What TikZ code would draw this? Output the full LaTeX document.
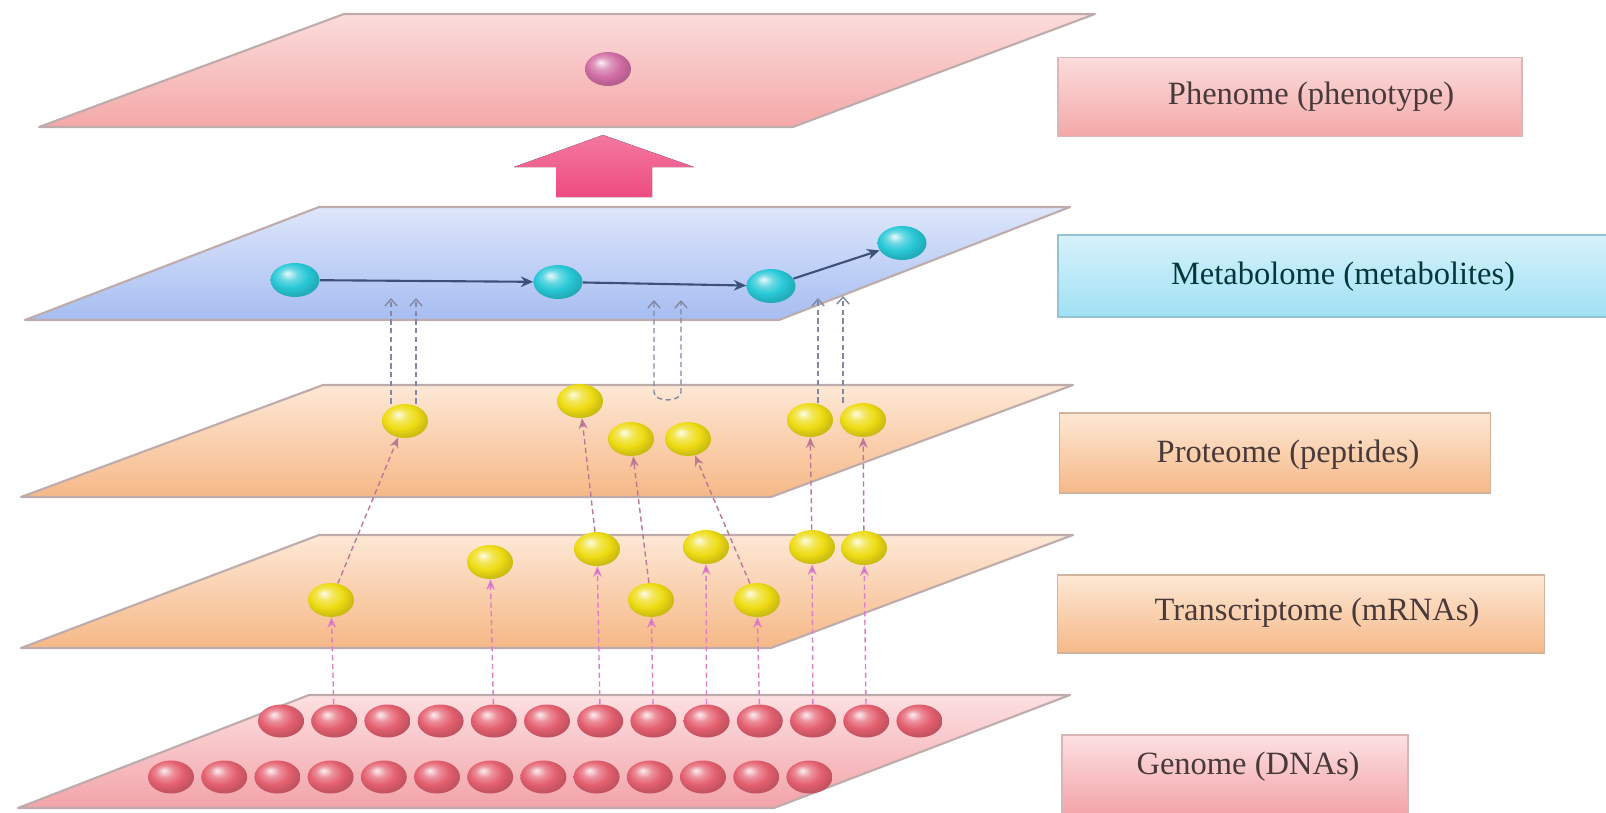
\documentclass[tikz,border=0pt]{standalone}
\usepackage{fontspec}
\setmainfont{Liberation Serif}
\usetikzlibrary{arrows.meta,shapes.geometric}
\definecolor{phentop}{RGB}{252,220,220}
\definecolor{phenbot}{RGB}{244,168,168}
\definecolor{metatop}{RGB}{221,230,251}
\definecolor{metabot}{RGB}{167,189,241}
\definecolor{prottop}{RGB}{253,232,213}
\definecolor{protbot}{RGB}{246,184,135}
\definecolor{gentop}{RGB}{253,224,226}
\definecolor{genbot}{RGB}{242,163,168}
\definecolor{planeedge}{RGB}{190,172,172}
\definecolor{metacyan}{RGB}{40,200,215}
\definecolor{protyellow}{RGB}{238,220,20}
\definecolor{genred}{RGB}{228,96,112}
\definecolor{phenball}{RGB}{210,110,165}
\definecolor{metaline}{RGB}{60,80,120}
\definecolor{pairline}{RGB}{130,135,165}
\definecolor{geneline}{RGB}{222,125,200}
\definecolor{protline}{RGB}{190,120,150}
\definecolor{bigarrow}{RGB}{238,76,128}
\definecolor{labelink}{RGB}{72,58,58}
\definecolor{metaboxtop}{RGB}{214,242,251}
\definecolor{metaboxbot}{RGB}{160,224,244}
\colorlet{glosscol}{red}
\pgfdeclareradialshading[glosscol]{glossy}{\pgfpoint{-8bp}{10bp}}{%
  color(0bp)=(glosscol!10!white); color(9bp)=(glosscol!70!white);
  color(18bp)=(glosscol); color(26bp)=(glosscol!88!black); color(50bp)=(glosscol!60!black)}
\begin{document}
\begin{tikzpicture}[x=0.02cm, y=-0.02cm,
    plane/.style={draw=planeedge, line width=1.2pt, line join=round},
    ball/.style={ellipse, inner sep=0pt, minimum width=0.92cm, minimum height=0.68cm},
    gloss/.style={/utils/exec={\colorlet{glosscol}{#1}}, shading=glossy},
    cball/.style={ball, gloss=metacyan, minimum width=0.98cm},
    yball/.style={ball, gloss=protyellow},
    gball/.style={ball, gloss=genred, minimum height=0.66cm},
    metaflow/.style={draw=metaline, line width=1.2pt, -{Stealth[length=7pt,width=6pt]}},
    geneflow/.style={draw=geneline, densely dashed, line width=0.8pt, -{Stealth[length=6pt,width=5pt,fill=violet!70]}},
    protflow/.style={draw=protline, densely dashed, line width=0.8pt, -{Stealth[length=6pt,width=5pt]}},
    pairflow/.style={draw=pairline, densely dashed, line width=0.8pt, -{Straight Barb[length=4pt,width=7pt]}},
    labelbox/.style={rectangle, line width=0.8pt, inner sep=0pt},
    labeltext/.style={font=\fontsize{18.5}{22}\selectfont, text=labelink}
  ]
  \useasboundingbox (0,0) rectangle (1606,812);

  % layers
  \path[plane, top color=phentop, bottom color=phenbot] (344,14) -- (1095,14) -- (793,127) -- (39,127) -- cycle;
  \path[plane, top color=metatop, bottom color=metabot] (319,207) -- (1070,207) -- (779,320) -- (25,320) -- cycle;
  \path[plane, top color=prottop, bottom color=protbot] (323,385) -- (1073,385) -- (771,497) -- (21,497) -- cycle;
  \path[plane, top color=prottop, bottom color=protbot] (319,535) -- (1073,535) -- (771,648) -- (21,648) -- cycle;
  \path[plane, top color=gentop, bottom color=genbot] (309,695) -- (1070,695) -- (774,808) -- (18,808) -- cycle;

  \fill[top color=bigarrow!75!white, bottom color=bigarrow] (603,135) -- (694,167) -- (652,167) -- (652,197) -- (556,197) -- (556,167) -- (514,167) -- cycle;

  % balls
  \node[ball, gloss=phenball] (ph) at (608,69) {};

  \node[cball] (c1) at (295,280) {};
  \node[cball] (c2) at (558,282) {};
  \node[cball] (c3) at (771,286) {};
  \node[cball] (c4) at (902,243) {};

  \node[yball] (pr1) at (405,421) {};
  \node[yball] (pr2) at (580,401) {};
  \node[yball] (pr3) at (631,439) {};
  \node[yball] (pr4) at (688,439) {};
  \node[yball] (pr5) at (810,420) {};
  \node[yball] (pr6) at (863,420) {};

  \node[yball] (tr1) at (331,600) {};
  \node[yball] (tr2) at (490,562) {};
  \node[yball] (tr3) at (597,549) {};
  \node[yball] (tr4) at (651,600) {};
  \node[yball] (tr5) at (706,547) {};
  \node[yball] (tr6) at (757,600) {};
  \node[yball] (tr7) at (812,547) {};
  \node[yball] (tr8) at (864,548) {};

  \foreach \i in {0,...,12} {
    \node[gball] (dna\i) at ({281+53.2*\i},721) {};
    \node[gball] (dnb\i) at ({171+53.2*\i},777) {};
  }

  % flows
  \draw[metaflow] (c1) -- (c2);
  \draw[metaflow] (c2) -- (c3);
  \draw[metaflow] (c3) -- (c4);

  \foreach \g/\t in {1/1,4/2,6/3,7/4,8/5,9/6,10/7,11/8}
    \draw[geneflow] (dna\g) -- (tr\t);
  \foreach \t/\p in {1/1,3/2,4/3,6/4,7/5,8/6}
    \draw[protflow] (tr\t) -- (pr\p);

  \coordinate (m1a) at (391,298);
  \coordinate (m1b) at (416,298);
  \coordinate (m2a) at (654,300);
  \coordinate (m2b) at (681,300);
  \coordinate (u2a) at (654,392);
  \coordinate (u2b) at (681,392);
  \coordinate (m3a) at (818,298);
  \coordinate (m3b) at (843,296);
  \draw[pairflow] (pr1.north -| m1a) -- (m1a);
  \draw[pairflow] (pr1.north -| m1b) -- (m1b);
  \draw[pairflow, {Straight Barb[length=4pt,width=7pt]}-{Straight Barb[length=4pt,width=7pt]}] (m2a) -- (u2a) to[out=-90, in=-90] (u2b) -- (m2b);
  \draw[pairflow] (pr5.north -| m3a) -- (m3a);
  \draw[pairflow] (pr6.north -| m3b) -- (m3b);

  % labels
  \node[labelbox, draw=phenbot!80!black!60, top color=phentop, bottom color=phenbot, minimum width=9.28cm, minimum height=1.58cm] (phenbox) at (1290,97) {};
  \node[labeltext] (phenlabel) at (1311,97) {Phenome (phenotype)};
  \node[labelbox, draw=metaboxbot!70!gray, top color=metaboxtop, bottom color=metaboxbot, minimum width=11.16cm, minimum height=1.64cm] (metabox) at (1337,276) {};
  \node[labeltext, text=teal!45!black] (metalabel) at (1343,277) {Metabolome (metabolites)};
  \node[labelbox, draw=protbot!60!gray!80, top color=prottop, bottom color=protbot, minimum width=8.62cm, minimum height=1.6cm] (protbox) at (1275,453) {};
  \node[labeltext] (protlabel) at (1288,455) {Proteome (peptides)};
  \node[labelbox, draw=protbot!60!gray!80, top color=prottop, bottom color=protbot, minimum width=9.74cm, minimum height=1.56cm] (transbox) at (1301,614) {};
  \node[labeltext] (translabel) at (1317,613) {Transcriptome (mRNAs)};
  \node[labelbox, draw=genbot!80!black!60, top color=gentop, bottom color=genbot, minimum width=6.92cm, minimum height=1.6cm] (genbox) at (1235,775) {};
  \node[labeltext] (genlabel) at (1248,767) {Genome (DNAs)};
\end{tikzpicture}
\end{document}
